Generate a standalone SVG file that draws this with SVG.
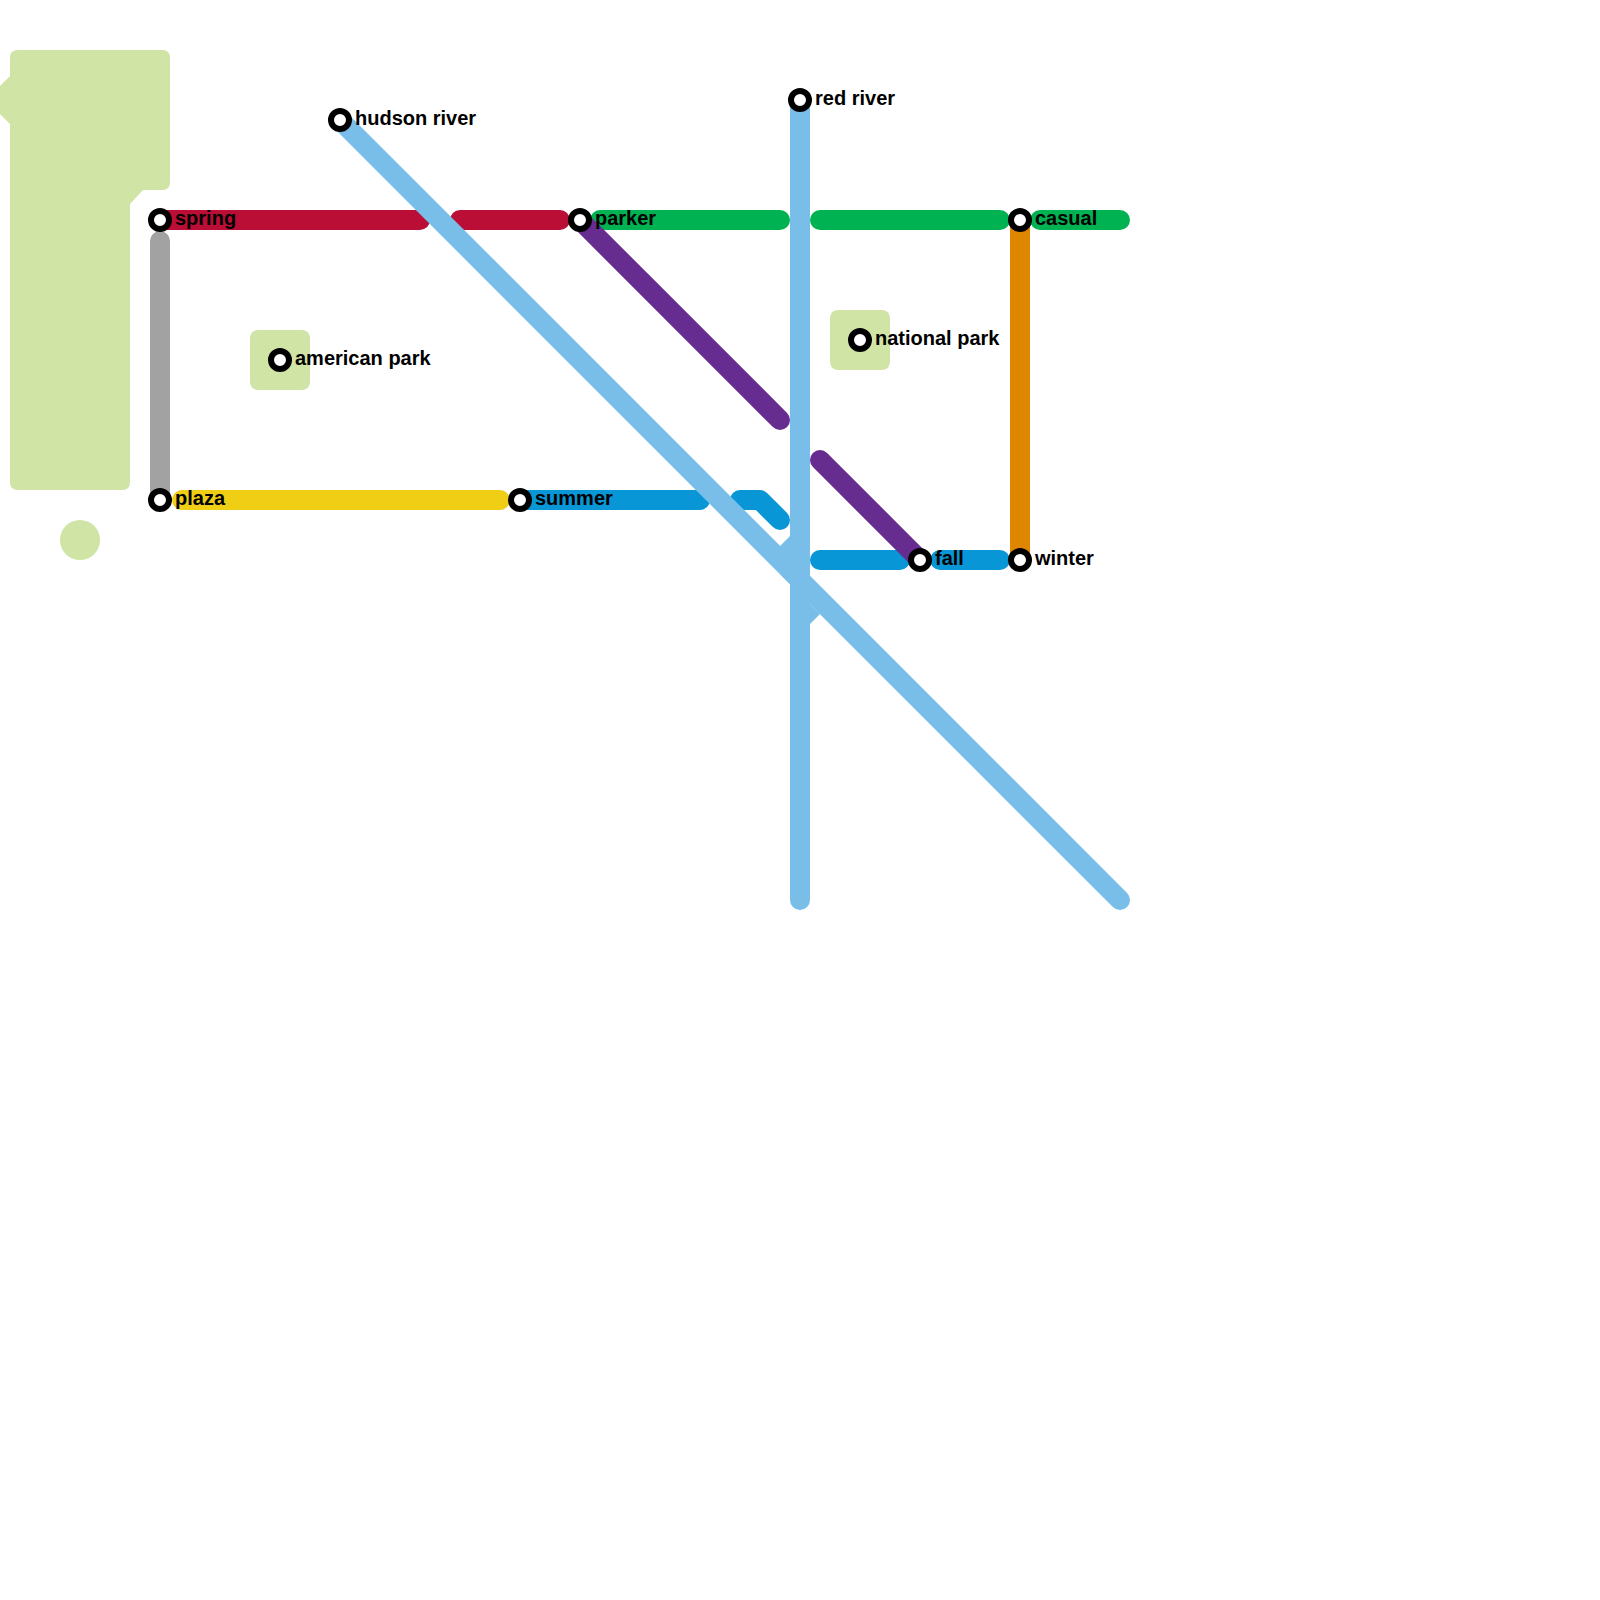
<svg xmlns="http://www.w3.org/2000/svg" width="1600" height="1600" viewBox="0 0 1600 1600">
<style>
.l{fill:none;stroke-width:20;stroke-linecap:round;stroke-linejoin:round}
.park{fill:#cfe4a5}
.river{stroke:#79bde9}
.s{fill:#fff;stroke:#000;stroke-width:6}
text{font-family:"Liberation Sans",Arial,sans-serif;font-weight:700;font-size:20px;fill:#000}
</style>
<rect width="1600" height="1600" fill="#fff"/>
<g id="parks">
<path id="park-main" class="park" d="M18 50H162Q170 50 170 58V182Q170 190 162 190H143L130 204V482Q130 490 122 490H18Q10 490 10 482V124L0 114V86L10 76V58Q10 50 18 50Z"/>
<rect id="park-american" class="park" x="250" y="330" width="60" height="60" rx="8"/>
<rect id="park-national" class="park" x="830" y="310" width="60" height="60" rx="8"/>
<circle id="park-round" class="park" cx="80" cy="540" r="20"/>
</g>
<g id="connectors">
<path class="l" stroke="#bb0e36" d="M160 220H420M460 220H560"/>
<path class="l" stroke="#00b251" d="M600 220H780M820 220H1000M1040 220H1120"/>
<path class="l" stroke="#a2a2a2" d="M160 241V500"/>
<path class="l" stroke="#f0ce15" d="M182 500H500"/>
<path class="l" stroke="#0896d7" d="M520 500H700M740 500H760L780 520M820 560H900M940 560H1000"/>
<path class="l" stroke="#662c90" d="M580 220L780 420M820 460L920 560"/>
<path class="l" stroke="#df8600" d="M1020 220V560"/>
<path class="l river" d="M800 100V900M340 120L1120 900"/>
<path fill="#79bde9" d="M780 546L790 536V584L780 574ZM810 624L820 614L810 604Z"/>
</g>
<g id="st-spring"><circle class="s" cx="160" cy="220" r="9"/><text x="175" y="225">spring</text></g>
<g id="st-plaza"><circle class="s" cx="160" cy="500" r="9"/><text x="175" y="505">plaza</text></g>
<g id="st-summer"><circle class="s" cx="520" cy="500" r="9"/><text x="535" y="505">summer</text></g>
<g id="st-parker"><circle class="s" cx="580" cy="220" r="9"/><text x="595" y="225">parker</text></g>
<g id="st-hudson"><circle class="s" cx="340" cy="120" r="9"/><text x="355" y="125">hudson river</text></g>
<g id="st-red"><circle class="s" cx="800" cy="100" r="9"/><text x="815" y="105">red river</text></g>
<g id="st-casual"><circle class="s" cx="1020" cy="220" r="9"/><text x="1035" y="225">casual</text></g>
<g id="st-winter"><circle class="s" cx="1020" cy="560" r="9"/><text x="1035" y="565">winter</text></g>
<g id="st-fall"><circle class="s" cx="920" cy="560" r="9"/><text x="935" y="565">fall</text></g>
<g id="st-american"><circle class="s" cx="280" cy="360" r="9"/><text x="295" y="365">american park</text></g>
<g id="st-national"><circle class="s" cx="860" cy="340" r="9"/><text x="875" y="345">national park</text></g>
</svg>
